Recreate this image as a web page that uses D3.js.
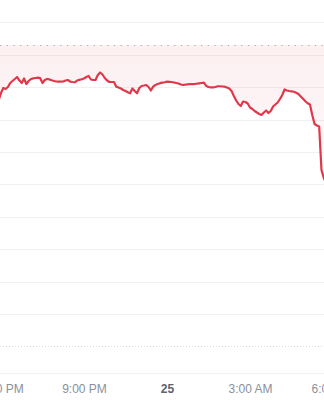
<!DOCTYPE html>
<html>
<head>
<meta charset="utf-8">
<script src="https://cdn.jsdelivr.net/npm/d3@7"></script>
<style>
  html, body { margin: 0; padding: 0; background: #fff; overflow: hidden; }
  svg { display: block; }
  .x-axis text { font-family: "Liberation Sans", Arial, sans-serif; font-size: 12px; fill: #8a9099; }
  .x-axis text.day { font-weight: bold; fill: #5d636d; }
</style>
</head>
<body>
<div id="chart"></div>
<script>
(function(){
    // data ----------------------------------------------------------------
    var START_TIME   = new Date(2024, 4, 24, 17, 55);   // first sample
    var STEP_MINUTES = 5;

    var prices = [
        67802, 67910, 67988, 67972, 68003, 68065, 68096, 68127, 68157, 68103,
        68065, 68134, 68049, 68096, 68127, 68137, 68142, 68147, 68139, 68065,
        68111, 68127, 68120, 68107, 68096, 68088, 68085, 68085, 68088, 68103,
        68111, 68085, 68080, 68076, 68103, 68114, 68122, 68134, 68157, 68173,
        68119, 68111, 68111, 68188, 68227, 68196, 68142, 68103, 68080, 68080,
        68080, 68008, 67995, 67980, 67957, 67941, 67921, 67906, 67980, 67941,
        67906, 67988, 68019, 68026, 68034, 68003, 67949, 68008, 68034, 68049,
        68062, 68070, 68077, 68085, 68083, 68080, 68073, 68065, 68057, 68042,
        68034, 68039, 68045, 68049, 68049, 68049, 68054, 68060, 68065, 68070,
        68019, 68003, 67998, 67998, 68003, 68015, 68015, 68011, 68008, 67995,
        67980, 67941, 67864, 67795, 67741, 67710, 67779, 67772, 67748, 67687,
        67664, 67633, 67610, 67587, 67571, 67610, 67640, 67602, 67633, 67702,
        67733, 67764, 67818, 67880, 67965, 67949, 67941, 67937, 67929, 67915,
        67895, 67857, 67821, 67784, 67752, 67733, 67571, 67432, 67409, 67394,
        66722, 66599, 66522
    ];

    var previousClose = 68651;

    var yDomain   = [64000, 69000];
    var yTickStep = 500;

    var tickTimes  = [
        new Date(2024, 4, 24, 18), new Date(2024, 4, 24, 21), new Date(2024, 4, 25, 0),
        new Date(2024, 4, 25, 3),  new Date(2024, 4, 25, 6)
    ];
    var tickLabels = ['6:00 PM', '9:00 PM', '25', '3:00 AM', '6:00 AM'];

    var WIDTH  = 324,
        HEIGHT = 400,
        LINE_COLOR = '#e0384b';

    var series = prices.map(function(p, i){
        return { date: new Date(START_TIME.getTime() + i * STEP_MINUTES * 60000), value: p };
    });

    // "MAIN" ================================================================
    var svg = d3.select('#chart').append('svg')
        .attr('width', WIDTH)
        .attr('height', HEIGHT);

    var x = d3.scaleTime()
        .domain([tickTimes[0], tickTimes[tickTimes.length - 1]])
        .range([1, 333]);

    var y = d3.scaleLinear()
        .domain(yDomain)
        .range([346.4, 22.4]);

    // gradient for the area
    var defs = svg.append('defs');
    var grad = defs.append('linearGradient')
        .attr('id', 'area-grad')
        .attr('gradientUnits', 'userSpaceOnUse')
        .attr('x1', 0).attr('x2', 0)
        .attr('y1', y(previousClose)).attr('y2', 220);
    grad.append('stop').attr('offset', 0).attr('stop-color', LINE_COLOR).attr('stop-opacity', 0.075);
    grad.append('stop').attr('offset', 0.3).attr('stop-color', LINE_COLOR).attr('stop-opacity', 0.06);
    grad.append('stop').attr('offset', 1).attr('stop-color', LINE_COLOR).attr('stop-opacity', 0);

    // gridlines
    var gridValues = d3.range(yDomain[0], yDomain[1] + 1, yTickStep);
    svg.append('g').attr('class', 'grid')
        .selectAll('line')
        .data(gridValues.slice(1))
        .enter().append('line')
        .attr('x1', 0).attr('x2', WIDTH)
        .attr('y1', function(d){ return Math.round(y(d)) + 0.5; })
        .attr('y2', function(d){ return Math.round(y(d)) + 0.5; })
        .attr('stroke', '#f1f1f3')
        .attr('stroke-width', 1);

    // bottom gridline is dotted
    svg.append('line')
        .attr('x1', 0).attr('x2', WIDTH)
        .attr('y1', Math.round(y(yDomain[0])) + 0.5)
        .attr('y2', Math.round(y(yDomain[0])) + 0.5)
        .attr('stroke', '#d6d8dc')
        .attr('stroke-dasharray', '1,2');

    // axis baseline
    svg.append('line')
        .attr('x1', 0).attr('x2', WIDTH)
        .attr('y1', 373.5).attr('y2', 373.5)
        .attr('stroke', '#f3f3f5');

    // previous close reference
    svg.append('line')
        .attr('x1', 0).attr('x2', WIDTH)
        .attr('y1', Math.round(y(previousClose)) + 0.5)
        .attr('y2', Math.round(y(previousClose)) + 0.5)
        .attr('stroke', '#a9adb4')
        .attr('stroke-dasharray', '1.2,5.5');

    // area between price and previous close
    var area = d3.area()
        .x(function(d){ return x(d.date); })
        .y0(y(previousClose))
        .y1(function(d){ return y(d.value); });

    svg.append('path')
        .datum(series)
        .attr('d', area)
        .attr('fill', 'url(#area-grad)');

    var line = d3.line()
        .x(function(d){ return x(d.date); })
        .y(function(d){ return y(d.value); });

    svg.append('path')
        .datum(series)
        .attr('d', line)
        .attr('fill', 'none')
        .attr('stroke', LINE_COLOR)
        .attr('stroke-width', 2.2)
        .attr('stroke-linejoin', 'round');

    // x axis
    var xAxis = d3.axisBottom(x)
        .tickValues(tickTimes)
        .tickSize(0)
        .tickPadding(11)
        .tickFormat(function(d, i){ return tickLabels[i]; });

    var gx = svg.append('g')
        .attr('class', 'x-axis')
        .attr('transform', 'translate(0,373)')
        .call(xAxis);

    gx.select('.domain').remove();
    gx.selectAll('text')
        .attr('font-family', null)
        .attr('font-size', null)
        .attr('fill', null)
        .classed('day', function(d){ return d.getHours() === 0; });

})();
</script>
</body>
</html>
